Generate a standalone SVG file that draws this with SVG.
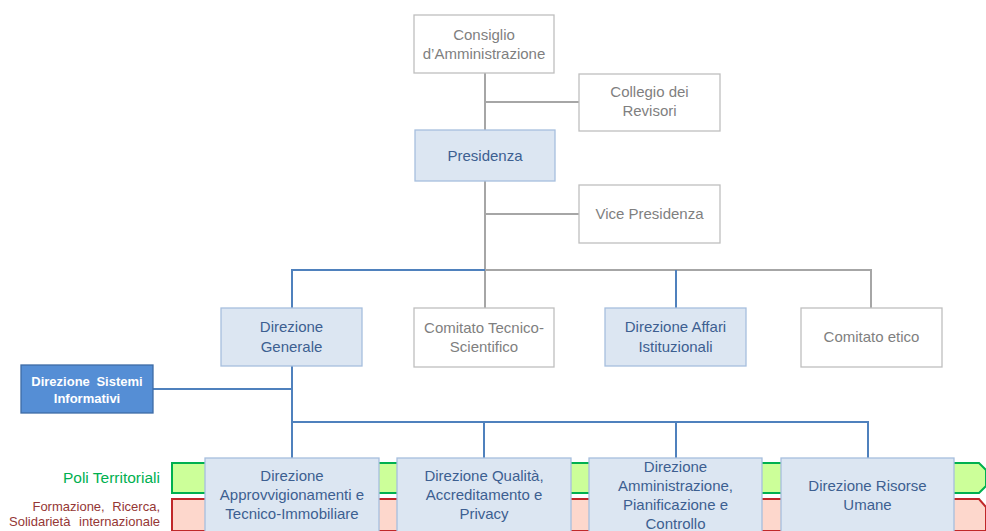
<svg xmlns="http://www.w3.org/2000/svg" width="986" height="531" viewBox="0 0 986 531">
  <style>
    text { font-family: "Liberation Sans", Arial, sans-serif; font-size: 15px; text-anchor: middle; }
    .gbox rect { fill: #ffffff; stroke: #bfbfbf; stroke-width: 1.3; }
    .gbox text { fill: #7f7f7f; }
    .bbox rect { fill: #dce6f2; stroke: #a7bfdd; stroke-width: 1.3; }
    .bbox text { fill: #3d5f91; }
    .dbox rect { fill: #558ed5; stroke: #3e6ca6; stroke-width: 1.3; }
    .dbox text { fill: #ffffff; font-weight: bold; font-size: 13px; }
    .lg { stroke: #a6a6a6; stroke-width: 2; fill: none; }
    .lb { stroke: #4f81bd; stroke-width: 2; fill: none; }
    .lbl { text-anchor: end; }
    .poli { fill: #00b050; font-size: 15.5px; }
    .form { fill: #953735; font-size: 13px; }
  </style>

  <!-- bands behind the bottom row -->
  <g id="bands">
    <path d="M172 463 H979 L986 470 V486 L979 493 H172 Z" fill="#ccff99" stroke="#00b050" stroke-width="2"/>
    <path d="M172 499 H979 L986 507 V531 H172 Z" fill="#fdd7cc" stroke="#c0282a" stroke-width="2"/>
    <text class="lbl poli" x="160" y="483">Poli Territoriali</text>
    <text class="lbl form" x="160" y="511" word-spacing="4">Formazione, Ricerca,</text>
    <text class="lbl form" x="160" y="526" word-spacing="5">Solidarietà internazionale</text>
  </g>

  <!-- connectors -->
  <g id="connectors">
    <path class="lg" d="M485 73 V130 M485 102 H579"/>
    <path class="lg" d="M485 181 V270 M485 214 H579"/>
    <path class="lg" d="M485 270 H871 V308 M485 270 V308"/>
    <path class="lb" d="M485 270 H292 V308 M676 270 V308"/>
    <path class="lb" d="M292 366 V458 M153 389 H292"/>
    <path class="lb" d="M292 422 H868 V458 M484 422 V458 M676 422 V458"/>
  </g>

  <g id="consiglio" class="gbox">
    <rect x="414" y="15" width="140" height="58"/>
    <text x="484" y="40">Consiglio</text>
    <text x="484" y="59">d’Amministrazione</text>
  </g>
  <g id="collegio" class="gbox">
    <rect x="579" y="74" width="141" height="57"/>
    <text x="649.5" y="97">Collegio dei</text>
    <text x="649.5" y="116">Revisori</text>
  </g>
  <g id="presidenza" class="bbox">
    <rect x="415" y="130" width="140" height="51"/>
    <text x="485" y="161">Presidenza</text>
  </g>
  <g id="vice-presidenza" class="gbox">
    <rect x="579" y="185" width="141" height="58"/>
    <text x="649.5" y="219">Vice Presidenza</text>
  </g>

  <g id="direzione-generale" class="bbox">
    <rect x="221" y="308" width="141" height="58"/>
    <text x="291.5" y="332">Direzione</text>
    <text x="291.5" y="352">Generale</text>
  </g>
  <g id="comitato-tecnico" class="gbox">
    <rect x="414" y="308" width="140" height="59"/>
    <text x="484" y="333">Comitato Tecnico-</text>
    <text x="484" y="352">Scientifico</text>
  </g>
  <g id="affari-istituzionali" class="bbox">
    <rect x="605" y="308" width="141" height="58"/>
    <text x="675.5" y="332">Direzione Affari</text>
    <text x="675.5" y="352">Istituzionali</text>
  </g>
  <g id="comitato-etico" class="gbox">
    <rect x="801" y="308" width="141" height="59"/>
    <text x="871.5" y="342">Comitato etico</text>
  </g>

  <g id="sistemi-informativi" class="dbox">
    <rect x="21" y="365" width="132" height="48"/>
    <text x="87" y="386" word-spacing="3">Direzione Sistemi</text>
    <text x="87" y="403">Informativi</text>
  </g>

  <g id="approvvigionamenti" class="bbox">
    <rect x="205" y="458" width="174" height="80"/>
    <text x="292" y="481">Direzione</text>
    <text x="292" y="500">Approvvigionamenti e</text>
    <text x="292" y="519">Tecnico-Immobiliare</text>
  </g>
  <g id="qualita" class="bbox">
    <rect x="397" y="458" width="174" height="80"/>
    <text x="484" y="481">Direzione Qualità,</text>
    <text x="484" y="500">Accreditamento e</text>
    <text x="484" y="519">Privacy</text>
  </g>
  <g id="amministrazione" class="bbox">
    <rect x="589" y="458" width="173" height="80"/>
    <text x="675.5" y="472">Direzione</text>
    <text x="675.5" y="491">Amministrazione,</text>
    <text x="675.5" y="510">Pianificazione e</text>
    <text x="675.5" y="529">Controllo</text>
  </g>
  <g id="risorse-umane" class="bbox">
    <rect x="781" y="458" width="173" height="80"/>
    <text x="867.5" y="491">Direzione Risorse</text>
    <text x="867.5" y="510">Umane</text>
  </g>
</svg>
